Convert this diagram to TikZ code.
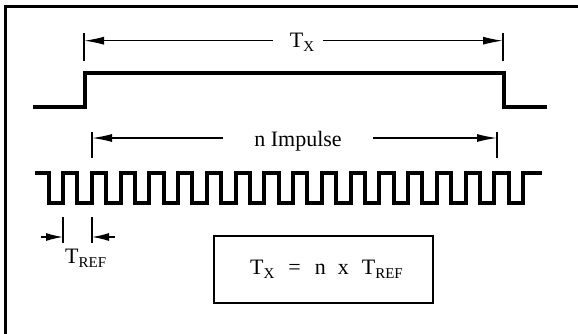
\documentclass[tikz,border=0pt]{standalone}
\usepackage{fontspec}
\setmainfont{Liberation Serif}
\usetikzlibrary{arrows.meta}
\newcommand{\sbx}[1]{\raisebox{-4pt}{\fontsize{15}{15}\selectfont #1}}
\begin{document}
\begin{tikzpicture}[x=1pt,y=-1pt,
  dim/.style={line width=1.4pt,-{Latex[length=20pt,width=8pt]}},
  sdim/.style={line width=1.4pt,-{Latex[length=17pt,width=8pt]}},
  tickline/.style={line width=1.8pt},
  wave/.style={line width=4pt,line join=miter},
  lbl/.style={font=\fontsize{22}{26}\selectfont,inner sep=0pt},
  eqbox/.style={draw,line width=2pt,minimum width=219pt,minimum height=67pt,inner sep=0pt,font=\fontsize{22}{26}\selectfont}]
\useasboundingbox (0,0) rectangle (578,333);
% frame (top and left edges)
\draw[line width=3pt] (5,334) -- (5,6) -- (579,6);
% big pulse
\draw[wave] (33,106.7) -- (85,106.7) -- (85,72.7) -- (504,72.7) -- (504,106.7) -- (547,106.7);
% T_X dimension
\coordinate (txl) at (84,40.7);
\coordinate (txr) at (503,40.7);
\coordinate (txla) at (273,40.7);
\coordinate (txra) at (323,40.7);
\node[lbl,anchor=base] (tx) at (302,47) {T\sbx{X}};
\draw[tickline] (84,33) -- (84,61);
\draw[tickline] (503,33) -- (503,61);
\draw[dim] (txla) -- (txl);
\draw[dim] (txra) -- (txr);
% n Impulse dimension
\coordinate (nil) at (92,138);
\coordinate (nir) at (497,138);
\coordinate (nila) at (223,138);
\coordinate (nira) at (373,138);
\node[lbl,anchor=base] (ni) at (298,146.5) {n Impulse};
\draw[tickline] (92,132) -- (92,158);
\draw[tickline] (497,132) -- (497,158);
\draw[dim] (nila) -- (nil);
\draw[dim] (nira) -- (nir);
% pulse train
\draw[wave] (35,173) -- (48.6,173) -- (48.6,203)
  foreach \k in {0,...,15} {
    -- ({63+28.75*\k},203) -- ({63+28.75*\k},173)
    -- ({77.4+28.75*\k},173) -- ({77.4+28.75*\k},203)
  }
  -- (523,203) -- (523,173) -- (542,173);
% T_REF dimension
\coordinate (trl) at (63,237);
\coordinate (trr) at (92,237);
\coordinate (trla) at (41,237);
\coordinate (trra) at (115,237);
\draw[tickline] (63,217) -- (63,243);
\draw[tickline] (92,217) -- (92,243);
\draw[sdim] (trla) -- (trl);
\draw[sdim] (trra) -- (trr);
\node[lbl,anchor=base west] (tref) at (65,263) {T\sbx{REF}};
% equation box
\node[eqbox] (eq) at (323.5,269.5) {\hspace{6pt}T\sbx{X}\hspace{14pt}=\hspace{14pt}n\hspace{12pt}x\hspace{13pt}T\sbx{REF}};
\end{tikzpicture}
\end{document}
